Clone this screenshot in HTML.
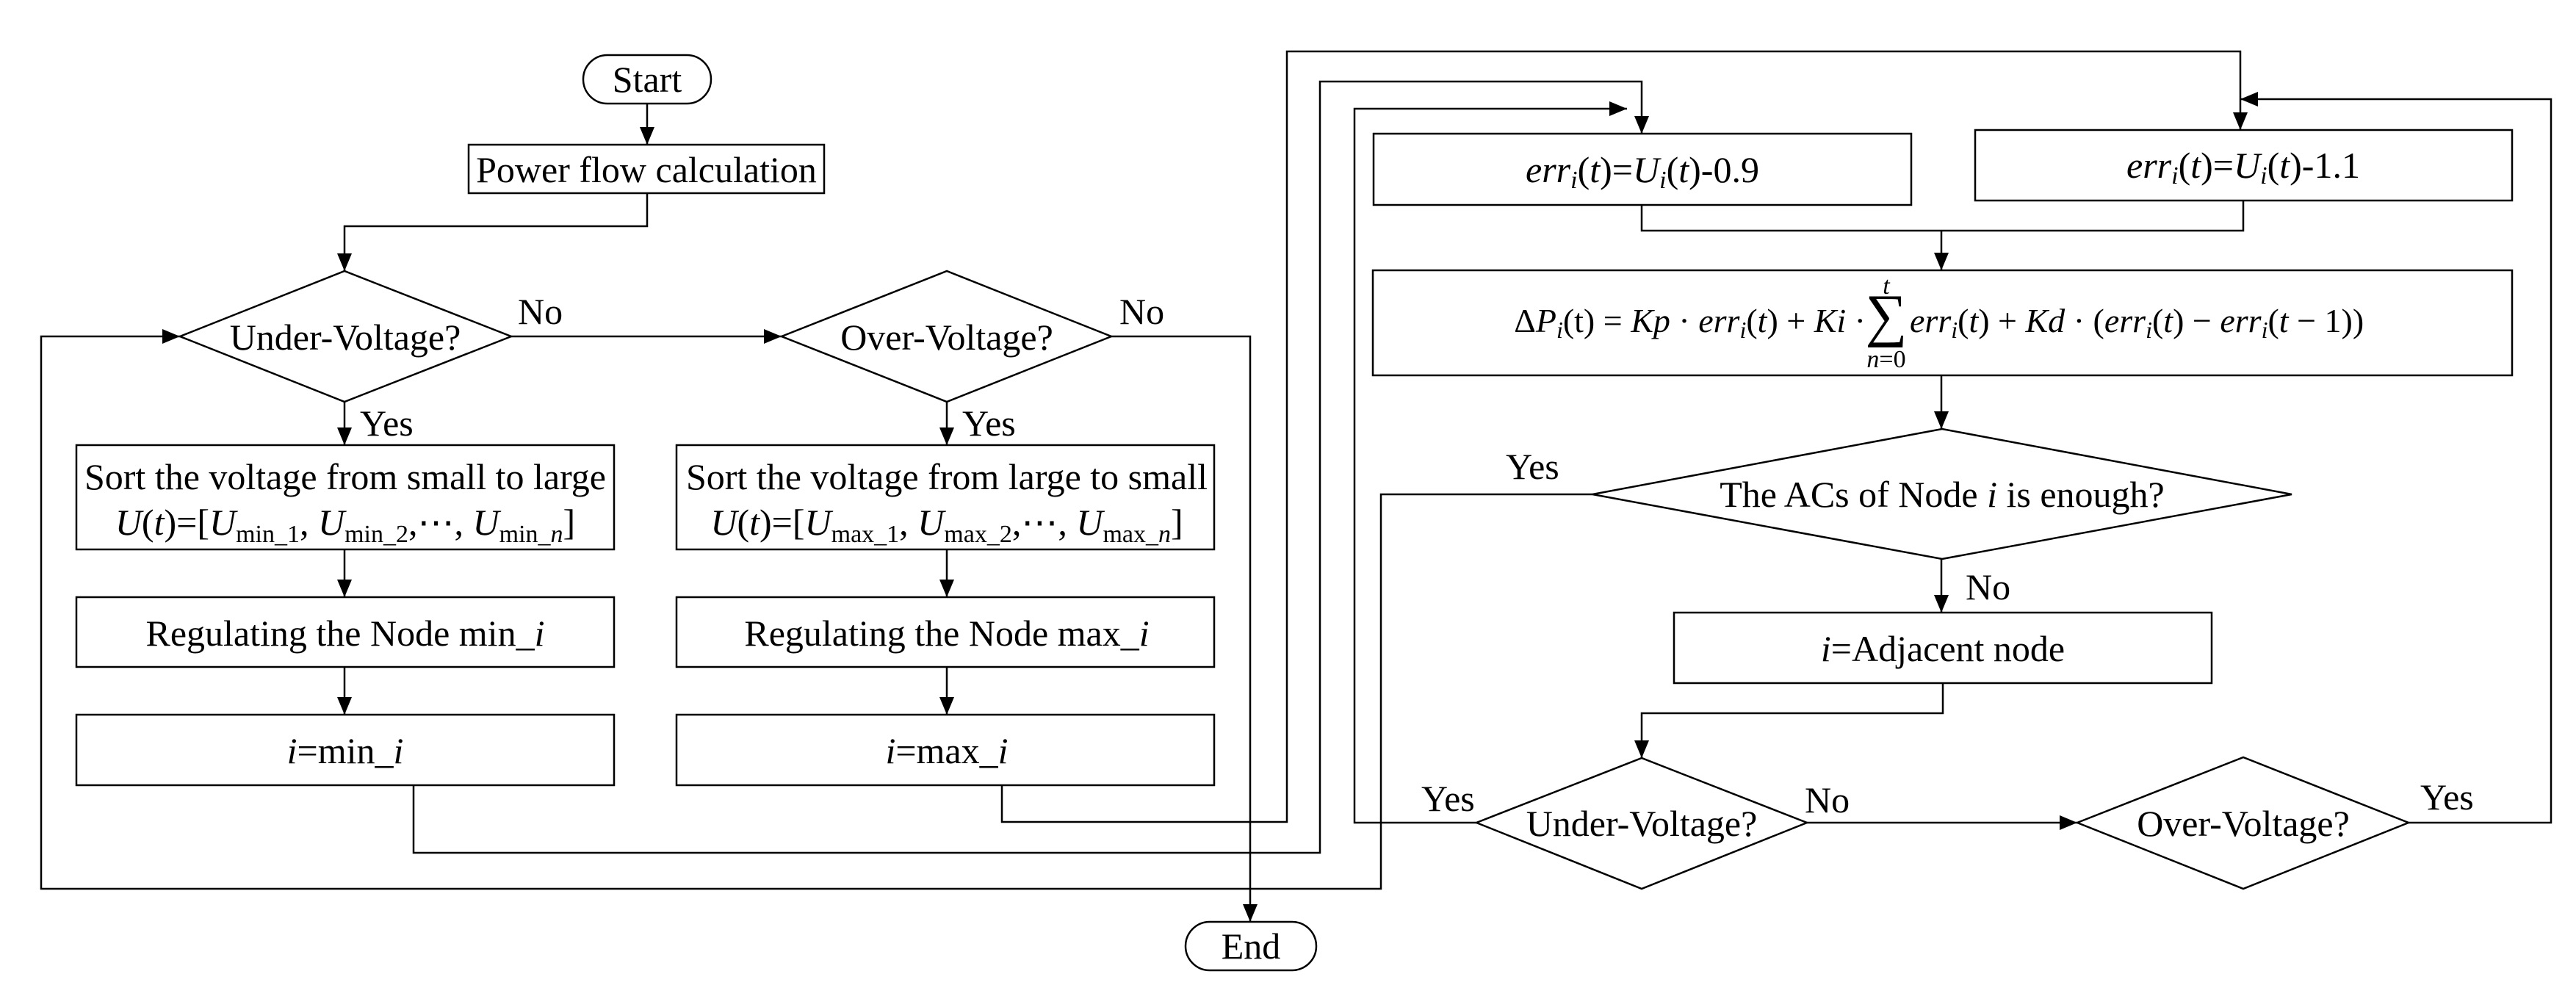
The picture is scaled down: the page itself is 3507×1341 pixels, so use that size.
<!DOCTYPE html>
<html><head><meta charset="utf-8"><style>
html,body{margin:0;padding:0;background:#fff;}
svg{display:block;}
text{font-family:"Liberation Serif",serif;font-size:50px;fill:#000;}
.i{font-style:italic;}
.s{font-size:34px;}
.f{font-size:46px;}
.f .s{font-size:32px;}
</style></head><body>
<svg width="3507" height="1341" viewBox="0 0 3507 1341" xmlns="http://www.w3.org/2000/svg">
<defs>
<marker id="a" markerUnits="userSpaceOnUse" markerWidth="24" markerHeight="20" refX="24" refY="10" orient="auto">
<path d="M0,0 L24,10 L0,20 Z" fill="#000"/></marker>
</defs>
<g fill="none" stroke="#000" stroke-width="2.5">
<rect x="794" y="75" width="174" height="66" rx="33"/>
<rect x="1614" y="1255" width="178" height="66" rx="33"/>
<rect x="638" y="197" width="484" height="66"/>
<rect x="104" y="606" width="732" height="142"/>
<rect x="921" y="606" width="732" height="142"/>
<rect x="104" y="813" width="732" height="95"/>
<rect x="921" y="813" width="732" height="95"/>
<rect x="104" y="973" width="732" height="96"/>
<rect x="921" y="973" width="732" height="96"/>
<rect x="1870" y="182" width="732" height="97"/>
<rect x="2689" y="177" width="731" height="96"/>
<rect x="1869" y="368" width="1551" height="143"/>
<rect x="2279" y="834" width="732" height="96"/>
<polygon points="245,458 469,369 696,458 469,547"/>
<polygon points="1064,458 1289,369 1513,458 1289,547"/>
<polygon points="2168,673 2644,584 3120,673 2644,761"/>
<polygon points="2010,1120 2235,1032 2460,1120 2235,1210"/>
<polygon points="2828,1120 3054,1031 3279,1120 3054,1210"/>
<line x1="881" y1="141" x2="881" y2="197" marker-end="url(#a)"/>
<polyline points="881,263 881,308 469,308 469,369" marker-end="url(#a)"/>
<line x1="696" y1="458" x2="1064" y2="458" marker-end="url(#a)"/>
<polyline points="1513,458 1702,458 1702,1255" marker-end="url(#a)"/>
<line x1="469" y1="547" x2="469" y2="606" marker-end="url(#a)"/>
<line x1="1289" y1="547" x2="1289" y2="606" marker-end="url(#a)"/>
<line x1="469" y1="748" x2="469" y2="813" marker-end="url(#a)"/>
<line x1="1289" y1="748" x2="1289" y2="813" marker-end="url(#a)"/>
<line x1="469" y1="908" x2="469" y2="973" marker-end="url(#a)"/>
<line x1="1289" y1="908" x2="1289" y2="973" marker-end="url(#a)"/>
<polyline points="1364,1069 1364,1119 1752,1119 1752,70 3050,70 3050,177" marker-end="url(#a)"/>
<polyline points="563,1069 563,1161 1797,1161 1797,111 2235,111 2235,182" marker-end="url(#a)"/>
<polyline points="2010,1120 1844,1120 1844,148 2215,148" marker-end="url(#a)"/>
<polyline points="2168,673 1880,673 1880,1210 56,1210 56,458 245,458" marker-end="url(#a)"/>
<polyline points="2235,279 2235,314 3054,314 3054,273"/>
<line x1="2643" y1="314" x2="2643" y2="368" marker-end="url(#a)"/>
<line x1="2643" y1="511" x2="2643" y2="584" marker-end="url(#a)"/>
<line x1="2643" y1="761" x2="2643" y2="834" marker-end="url(#a)"/>
<polyline points="2645,930 2645,971 2235,971 2235,1032" marker-end="url(#a)"/>
<line x1="2460" y1="1120" x2="2828" y2="1120" marker-end="url(#a)"/>
<polyline points="3279,1120 3473,1120 3473,135 3050,135" marker-end="url(#a)"/>
</g>
<g text-anchor="middle">
<text x="881" y="125">Start</text>
<text x="1703" y="1305">End</text>
<text x="880" y="248">Power flow calculation</text>
<text x="470" y="476">Under-Voltage?</text>
<text x="1289" y="476">Over-Voltage?</text>
<text x="470" y="666">Sort the voltage from small to large</text>
<text x="470" y="728"><tspan class="i">U</tspan>(<tspan class="i">t</tspan>)=[<tspan class="i">U</tspan><tspan class="s" dy="10">min_1</tspan><tspan dy="-10">, </tspan><tspan class="i">U</tspan><tspan class="s" dy="10">min_2</tspan><tspan dy="-10">,⋯, </tspan><tspan class="i">U</tspan><tspan class="s" dy="10">min_<tspan class="i">n</tspan></tspan><tspan dy="-10">]</tspan></text>
<text x="1289" y="666">Sort the voltage from large to small</text>
<text x="1289" y="728"><tspan class="i">U</tspan>(<tspan class="i">t</tspan>)=[<tspan class="i">U</tspan><tspan class="s" dy="10">max_1</tspan><tspan dy="-10">, </tspan><tspan class="i">U</tspan><tspan class="s" dy="10">max_2</tspan><tspan dy="-10">,⋯, </tspan><tspan class="i">U</tspan><tspan class="s" dy="10">max_<tspan class="i">n</tspan></tspan><tspan dy="-10">]</tspan></text>
<text x="470" y="879">Regulating the Node min_<tspan class="i">i</tspan></text>
<text x="1289" y="879">Regulating the Node max_<tspan class="i">i</tspan></text>
<text x="470" y="1039"><tspan class="i">i</tspan>=min_<tspan class="i">i</tspan></text>
<text x="1289" y="1039"><tspan class="i">i</tspan>=max_<tspan class="i">i</tspan></text>
<text x="2236" y="248"><tspan class="i">err</tspan><tspan class="s i" dy="8">i</tspan><tspan dy="-8">(</tspan><tspan class="i">t</tspan>)=<tspan class="i">U</tspan><tspan class="s i" dy="8">i</tspan><tspan dy="-8">(</tspan><tspan class="i">t</tspan>)-0.9</text>
<text x="3054" y="242"><tspan class="i">err</tspan><tspan class="s i" dy="8">i</tspan><tspan dy="-8">(</tspan><tspan class="i">t</tspan>)=<tspan class="i">U</tspan><tspan class="s i" dy="8">i</tspan><tspan dy="-8">(</tspan><tspan class="i">t</tspan>)-1.1</text>
<text x="2644" y="690">The ACs of Node <tspan class="i">i</tspan> is  enough?</text>
<text x="2645" y="900"><tspan class="i">i</tspan>=Adjacent node</text>
<text x="2235" y="1138">Under-Voltage?</text>
<text x="3054" y="1138">Over-Voltage?</text>
<text x="2568" y="456" style="font-size:80px">∑</text>
<text x="2568" y="400" class="s i">t</text>
<text x="2568" y="500" class="s"><tspan class="i">n</tspan>=0</text>
</g>
<text class="f" x="2540" y="452" text-anchor="end">Δ<tspan class="i">P</tspan><tspan class="s i" dy="8">i</tspan><tspan dy="-8">(t) = </tspan><tspan class="i">Kp</tspan> · <tspan class="i">err</tspan><tspan class="s i" dy="8">i</tspan><tspan dy="-8">(</tspan><tspan class="i">t</tspan>) + <tspan class="i">Ki</tspan> ·</text>
<text class="f" x="2600" y="452"><tspan class="i">err</tspan><tspan class="s i" dy="8">i</tspan><tspan dy="-8">(</tspan><tspan class="i">t</tspan>) + <tspan class="i">Kd</tspan> · (<tspan class="i">err</tspan><tspan class="s i" dy="8">i</tspan><tspan dy="-8">(</tspan><tspan class="i">t</tspan>) − <tspan class="i">err</tspan><tspan class="s i" dy="8">i</tspan><tspan dy="-8">(</tspan><tspan class="i">t</tspan> − 1))</text>
<text x="705" y="441">No</text>
<text x="1524" y="441">No</text>
<text x="490" y="593">Yes</text>
<text x="1310" y="593">Yes</text>
<text x="2050" y="652">Yes</text>
<text x="2676" y="816">No</text>
<text x="1935" y="1104">Yes</text>
<text x="2457" y="1106">No</text>
<text x="3295" y="1102">Yes</text>
</svg>
</body></html>
